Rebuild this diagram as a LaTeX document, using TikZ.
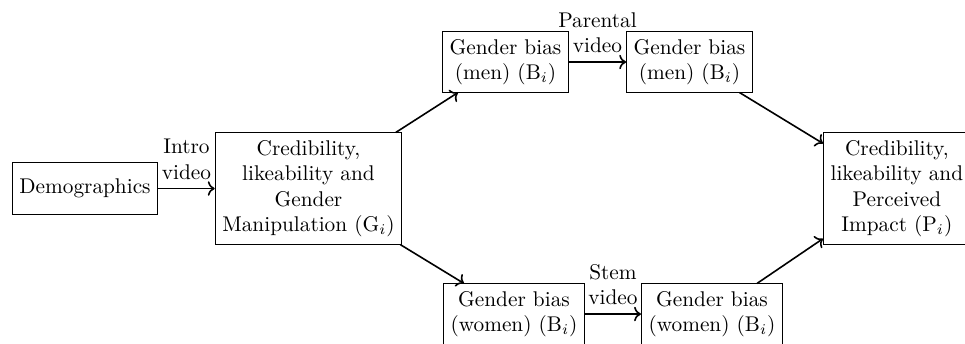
\documentclass[tikz,border=0pt]{standalone}
\usetikzlibrary{arrows.meta}
\begin{document}
\begin{tikzpicture}[x=0.4695pt,y=-0.4695pt,
  box/.style={draw,line width=0.45pt,align=center,inner sep=3.33pt},
  conn/.style={->,line width=0.75pt},
  lab/.style={midway,above,align=center,inner sep=3.8pt}]
\clip (0,0) rectangle (965,343);
\node[box,minimum height=24.4pt] (D) at (85,188.5) {Demographics};
\node[box] (G) at (308.5,188.5) {Credibility,\\likeability and\\Gender\\Manipulation (G$_i$)};
\node[box] (M1) at (505.5,62) {Gender bias\\(men) (B$_i$)};
\node[box] (M2) at (689.5,62) {Gender bias\\(men) (B$_i$)};
\node[box] (W1) at (514,314) {Gender bias\\(women) (B$_i$)};
\node[box] (W2) at (712,314) {Gender bias\\(women) (B$_i$)};
\node[box,anchor=west] (P) at (823,188.5) {Credibility,\\likeability and\\Perceived\\Impact (P$_i$)};
\draw[conn] (D) -- (G) node[lab] {Intro\\video};
\draw[conn] (G) -- (M1);
\draw[conn] (M1) -- (M2) node[lab] {Parental\\video};
\draw[conn] (M2) -- (P);
\draw[conn] (G) -- (W1);
\draw[conn] (W1) -- (W2) node[lab] {Stem\\video};
\draw[conn] (W2) -- (P);
\end{tikzpicture}
\end{document}
